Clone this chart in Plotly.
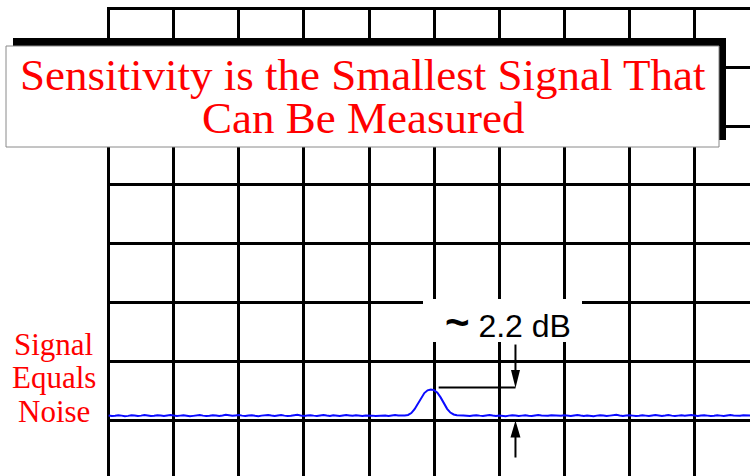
import statistics
import plotly.graph_objects as go

# ---------------------------------------------------------------------------
# Data: spectrum analyzer trace (frequency in screen divisions, level in dB)
# ---------------------------------------------------------------------------
FREQ_START_DIV = 0.0
FREQ_STEP_DIV = 0.05

LEVEL_DB = [
    -34.60, -34.66, -34.63, -34.58, -34.62, -34.67, -34.64, -34.59, -34.61, -34.65,
    -34.62, -34.57, -34.60, -34.66, -34.63, -34.58, -34.61, -34.64, -34.60, -34.56,
    -34.61, -34.65, -34.62, -34.59, -34.63, -34.68, -34.64, -34.60, -34.57, -34.62,
    -34.66, -34.63, -34.58, -34.61, -34.64, -34.60, -34.55, -34.59, -34.63, -34.60,
    -34.57, -34.62, -34.66, -34.61, -34.58, -34.63, -34.67, -34.62, -34.59, -34.56,
    -34.61, -34.64, -34.60, -34.57, -34.62, -34.66, -34.63, -34.58, -34.55, -34.60,
    -34.64, -34.61, -34.58, -34.62, -34.65, -34.60, -34.56, -34.61, -34.64, -34.59,
    -34.62, -34.66, -34.61, -34.57, -34.60, -34.63, -34.59, -34.62, -34.65, -34.60,
    -34.58, -34.62, -34.66, -34.63, -34.59, -34.61, -34.64, -34.60, -34.57, -34.61,
    -34.63, -34.60, -34.56, -34.40, -34.07, -33.60, -33.12, -32.70, -32.47, -32.40,
    -32.45, -32.67, -33.07, -33.57, -34.04, -34.36, -34.52, -34.58, -34.62, -34.60,
    -34.63, -34.66, -34.61, -34.58, -34.62, -34.65, -34.60, -34.57, -34.61, -34.64,
    -34.60, -34.63, -34.67, -34.62, -34.58, -34.61, -34.65, -34.62, -34.59, -34.63,
    -34.66, -34.61, -34.57, -34.60, -34.64, -34.62, -34.58, -34.61, -34.66, -34.63,
    -34.59, -34.62, -34.65, -34.60, -34.56, -34.61, -34.64, -34.60, -34.63, -34.67,
    -34.62, -34.58, -34.61, -34.65, -34.62, -34.58, -34.55, -34.60, -34.64, -34.61,
    -34.58, -34.62, -34.66, -34.63, -34.59, -34.62, -34.65, -34.61, -34.57, -34.60,
    -34.64, -34.61, -34.57, -34.62, -34.66, -34.62, -34.59, -34.63, -34.60, -34.56,
    -34.60, -34.64, -34.61, -34.58, -34.62, -34.66, -34.63, -34.59, -34.62, -34.65,
    -34.61, -34.57, -34.60, -34.64, -34.62, -34.58, -34.61, -34.65, -34.62, -34.59,
    -34.62,
]
FREQ_DIV = [FREQ_START_DIV + i * FREQ_STEP_DIV for i in range(len(LEVEL_DB))]

TITLE_LINES = ["Sensitivity is the Smallest Signal That", "Can Be Measured"]
SIDE_LABEL_LINES = ["Signal", "Equals", "Noise"]
DELTA_TEXT = "2.2 dB"

# Screen scale
DB_PER_DIV = 5
ARROW_FREQ_DIV = 6.25

# ---------------------------------------------------------------------------
# Layout helpers (pixel -> paper)
# ---------------------------------------------------------------------------
W, H = 750, 476
PX_PER_XDIV = 65.1
PX_PER_YDIV = 58.8
X0_PX = 108.6      # pixel column of the first vertical graticule line
Y0_PX = 8.5        # pixel row of the top (0 dB) graticule line
PLOT_LEFT_PX = 107
PLOT_TOP_PX = 7


def px_x(p):
    return p / W


def px_y(p):
    return 1 - p / H


peak_level = max(LEVEL_DB)
peak_freq = FREQ_DIV[LEVEL_DB.index(peak_level)]
floor_level = statistics.median(LEVEL_DB)

fig = go.Figure()

fig.add_trace(go.Scatter(
    x=FREQ_DIV, y=LEVEL_DB, mode="lines",
    line=dict(color="#0a0aff", width=2),
    hoverinfo="skip",
))

x_range = [-(X0_PX - PLOT_LEFT_PX) / PX_PER_XDIV, (W - X0_PX) / PX_PER_XDIV]
y_range = [-(H - Y0_PX) / PX_PER_YDIV * DB_PER_DIV,
           (Y0_PX - PLOT_TOP_PX) / PX_PER_YDIV * DB_PER_DIV]

fig.update_layout(
    width=W, height=H,
    margin=dict(l=0, r=0, t=0, b=0),
    paper_bgcolor="white", plot_bgcolor="white",
    showlegend=False,
    xaxis=dict(
        domain=[PLOT_LEFT_PX / W, 1], range=x_range,
        tick0=0, dtick=1, showgrid=True, gridcolor="black", gridwidth=2.5,
        zeroline=False, showticklabels=False, ticks="", showline=False,
        fixedrange=True,
    ),
    yaxis=dict(
        domain=[0, 1 - PLOT_TOP_PX / H], range=y_range,
        tick0=0, dtick=DB_PER_DIV, showgrid=True, gridcolor="black", gridwidth=2.5,
        zeroline=False, showticklabels=False, ticks="", showline=False,
        fixedrange=True,
    ),
)

shapes = []
# Title panel with drop shadow
shapes.append(dict(type="rect", xref="paper", yref="paper",
                   x0=px_x(13), x1=px_x(726), y0=px_y(140), y1=px_y(38),
                   fillcolor="black", line=dict(width=0), layer="above"))
shapes.append(dict(type="rect", xref="paper", yref="paper",
                   x0=px_x(6), x1=px_x(719), y0=px_y(147), y1=px_y(46),
                   fillcolor="white", line=dict(color="#8a8a8a", width=1), layer="above"))
# White backing behind the delta label
shapes.append(dict(type="rect", xref="paper", yref="paper",
                   x0=px_x(423), x1=px_x(582), y0=px_y(342), y1=px_y(299),
                   fillcolor="white", line=dict(width=0), layer="above"))

# Leader from the peak to the measurement arrow
shapes.append(dict(type="line", xref="x", yref="y",
                   x0=peak_freq + 0.12, x1=ARROW_FREQ_DIV,
                   ysizemode="pixel", yanchor=peak_level, y0=2, y1=2,
                   line=dict(color="black", width=2), layer="above"))
# Down arrow onto the peak level
shapes.append(dict(type="line", xref="x", yref="y",
                   x0=ARROW_FREQ_DIV, x1=ARROW_FREQ_DIV,
                   ysizemode="pixel", yanchor=peak_level, y0=12, y1=45,
                   line=dict(color="black", width=2), layer="above"))
shapes.append(dict(type="path", xref="x", yref="y",
                   xsizemode="pixel", xanchor=ARROW_FREQ_DIV,
                   ysizemode="pixel", yanchor=peak_level,
                   path="M0,1.5 L-4.5,19.5 L4.5,19.5 Z",
                   fillcolor="black", line=dict(width=0), layer="above"))
# Up arrow onto the noise floor
shapes.append(dict(type="line", xref="x", yref="y",
                   x0=ARROW_FREQ_DIV, x1=ARROW_FREQ_DIV,
                   ysizemode="pixel", yanchor=floor_level, y0=-18, y1=-42,
                   line=dict(color="black", width=2), layer="above"))
shapes.append(dict(type="path", xref="x", yref="y",
                   xsizemode="pixel", xanchor=ARROW_FREQ_DIV,
                   ysizemode="pixel", yanchor=floor_level,
                   path="M0,-5 L-5,-22 L5,-22 Z",
                   fillcolor="black", line=dict(width=0), layer="above"))
fig.update_layout(shapes=shapes)

annotations = []
title_font = dict(family="Liberation Serif, Times New Roman, serif", size=45, color="#ff0000")
for text, cy in zip(TITLE_LINES, [75, 118]):
    annotations.append(dict(text=text, xref="paper", yref="paper",
                            x=px_x(362.5), y=px_y(cy), xanchor="center", yanchor="middle",
                            showarrow=False, font=title_font))

side_font = dict(family="Liberation Serif, Times New Roman, serif", size=31, color="#ff0000")
for text, cy in zip(SIDE_LABEL_LINES, [344.5, 377.5, 411]):
    annotations.append(dict(text=text, xref="paper", yref="paper",
                            x=px_x(53.5), y=px_y(cy), xanchor="center", yanchor="middle",
                            showarrow=False, font=side_font))

# Wide, heavy "approximately" tilde ahead of the delta value
delta_label = "<span style=\"font-size:42px;font-weight:bold\">~</span> " + DELTA_TEXT
annotations.append(dict(text=delta_label, xref="paper", yref="paper",
                        x=px_x(507.5), y=px_y(322.3), xanchor="center", yanchor="middle",
                        showarrow=False,
                        font=dict(family="Liberation Sans, Arial, sans-serif",
                                  size=32, color="black")))
fig.update_layout(annotations=annotations)

fig.write_html("out.html")
